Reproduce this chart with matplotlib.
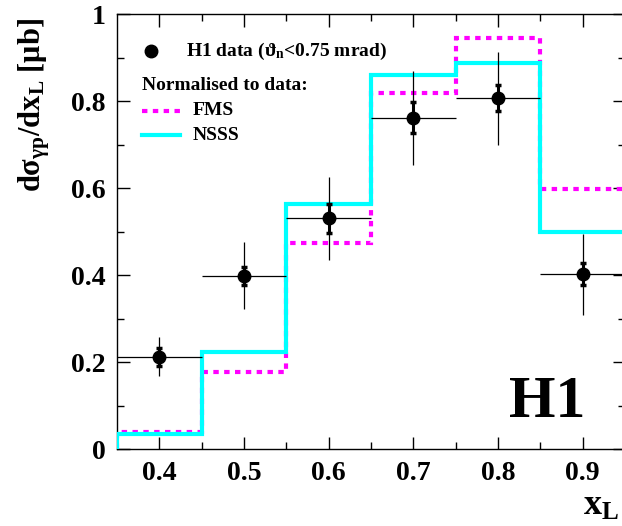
import numpy as np
import matplotlib
matplotlib.use("Agg")
import matplotlib.pyplot as plt

plt.rcParams["font.family"] = ["Liberation Serif", "DejaVu Serif"]
plt.rcParams["font.weight"] = "bold"
plt.rcParams["mathtext.fontset"] = "custom"
plt.rcParams["mathtext.rm"] = "Liberation Serif:bold"
plt.rcParams["mathtext.it"] = "Liberation Serif:bold"
plt.rcParams["mathtext.bf"] = "Liberation Serif:bold"

# data
x_pts = [0.4, 0.5, 0.6, 0.7, 0.8, 0.9]
y_pts = [0.213, 0.399, 0.531, 0.763, 0.807, 0.403]
err_tot = [0.045, 0.077, 0.096, 0.108, 0.106, 0.093]
err_stat = [0.021, 0.020, 0.033, 0.035, 0.030, 0.025]
x_half = [0.05, 0.05, 0.05, 0.05, 0.05, 0.05]

edges = [0.35, 0.45, 0.55, 0.65, 0.75, 0.85, 0.95]
nsss = [0.036, 0.223, 0.564, 0.861, 0.888, 0.499]
fms = [0.041, 0.179, 0.475, 0.820, 0.947, 0.599]

fig = plt.figure(figsize=(6.22, 5.26), dpi=100)
ax = fig.add_axes([0.188, 0.1455, 0.8167, 0.827])

ax.stairs(fms, edges, color="#ff00ff", lw=3.0, ls=(0, (1.3, 1.3)), zorder=2)
ax.stairs(nsss, edges, color="#00ffff", lw=3.0, zorder=3)

ax.errorbar(x_pts, y_pts, xerr=x_half, yerr=err_tot, fmt="none",
            ecolor="black", elinewidth=0.9, capsize=0, zorder=4)
ax.errorbar(x_pts, y_pts, yerr=err_stat, fmt="o", color="black", ms=9,
            elinewidth=2.2, capsize=2.5, capthick=2.5, zorder=5)

ax.set_xlim(0.35, 0.95)
ax.set_ylim(0, 1)
ax.set_xticks([0.4, 0.5, 0.6, 0.7, 0.8, 0.9])
ax.set_xticklabels(["0.4", "0.5", "0.6", "0.7", "0.8", "0.9"])
ax.set_xticks(np.arange(0.45, 0.95, 0.1), minor=True)
ax.set_yticks([0, 0.2, 0.4, 0.6, 0.8, 1.0])
ax.set_yticklabels(["0", "0.2", "0.4", "0.6", "0.8", "1"])
ax.set_yticks([0.1, 0.3, 0.5, 0.7, 0.9], minor=True)
ax.tick_params(which="both", direction="in", top=True, right=True,
               labelsize=20, width=1.0, pad=8)
ax.tick_params(which="major", length=9)
ax.tick_params(which="minor", length=5)
for lab in ax.get_xticklabels() + ax.get_yticklabels():
    lab.set_fontweight("bold")
for sp in ax.spines.values():
    sp.set_linewidth(1.0)

fig.text(0.055, 0.965, r"$\mathrm{d}\sigma_{\gamma p}/\mathrm{dx}_\mathrm{L}$ [$\mu$b]",
         rotation=90, ha="center", va="top", fontsize=22, fontweight="bold")
fig.text(0.995, 0.005, r"$\mathrm{x}_\mathrm{L}$", ha="right", va="bottom",
         fontsize=26, fontweight="bold")

# legend drawn by hand
ax.plot([0.39], [0.916], "o", color="black", ms=9)
ax.text(0.432, 0.916, r"H1 data ($\vartheta_\mathrm{n}$<0.75 mrad)",
        fontsize=14, fontweight="bold", va="center")
ax.text(0.38, 0.836, "Normalised to data:", fontsize=14,
        fontweight="bold", va="center")
ax.plot([0.38, 0.425], [0.779, 0.779], color="#ff00ff", lw=3.0,
        ls=(0, (1.3, 1.3)))
ax.text(0.44, 0.779, "FMS", fontsize=14, fontweight="bold", va="center")
ax.plot([0.38, 0.425], [0.722, 0.722], color="#00ffff", lw=3.0)
ax.text(0.44, 0.722, "NSSS", fontsize=14, fontweight="bold", va="center")

ax.text(0.903, 0.045, "H1", fontsize=43, fontweight="bold",
        ha="right", va="bottom")

fig.savefig("out.png", dpi=100)
